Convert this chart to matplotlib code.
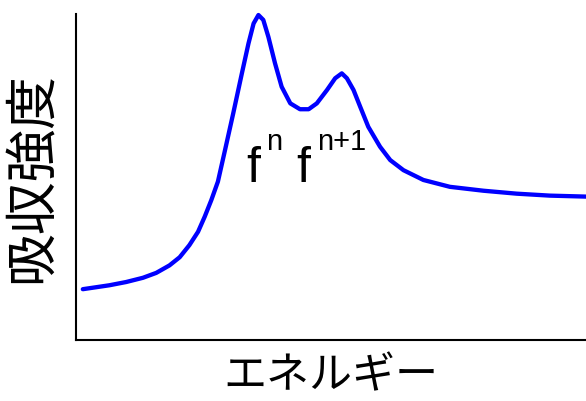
import matplotlib.pyplot as plt

plt.rcParams['font.family'] = ['Noto Sans CJK JP', 'DejaVu Sans']

energy = [0.13, 0.39, 0.65, 0.98, 1.31, 1.57, 1.83, 2.03, 2.22, 2.39, 2.52,
          2.65, 2.78, 2.92, 3.08, 3.25, 3.38, 3.48, 3.575, 3.67, 3.77, 3.90,
          4.03, 4.20, 4.39, 4.56, 4.72, 4.92, 5.08, 5.21, 5.31, 5.44, 5.57,
          5.73, 5.96, 6.16, 6.42, 6.81, 7.33, 7.99, 8.64, 9.29, 10.0]
intensity = [0.156, 0.162, 0.168, 0.178, 0.191, 0.206, 0.229, 0.254, 0.291,
             0.332, 0.378, 0.429, 0.486, 0.583, 0.695, 0.818, 0.910, 0.971,
             0.997, 0.982, 0.930, 0.849, 0.777, 0.726, 0.708, 0.708, 0.726,
             0.767, 0.803, 0.818, 0.803, 0.767, 0.716, 0.654, 0.593, 0.552,
             0.521, 0.491, 0.470, 0.458, 0.449, 0.443, 0.440]

fig = plt.figure(figsize=(5.86, 4.01), dpi=100)
ax = fig.add_axes([0.13, 0.152, 0.87, 0.813])
ax.plot(energy, intensity, color='blue', lw=3.1, clip_on=False,
        solid_capstyle='round', solid_joinstyle='round')
ax.set_xlim(0, 10)
ax.set_ylim(0, 1)
ax.spines['top'].set_visible(False)
ax.spines['right'].set_visible(False)
ax.spines['left'].set_linewidth(1.5)
ax.spines['bottom'].set_linewidth(1.5)
ax.set_xticks([])
ax.set_yticks([])

# peak labels f^n and f^(n+1)
ax.text(3.33, 0.485, 'f', fontsize=36, family='Liberation Sans', va='baseline')
ax.text(3.73, 0.583, 'n', fontsize=21, family='Liberation Sans', va='baseline')
ax.text(4.31, 0.485, 'f', fontsize=36, family='Liberation Sans', va='baseline')
ax.text(4.72, 0.583, 'n+1', fontsize=21, family='Liberation Sans', va='baseline')

ax.set_xlabel('エネルギー', fontsize=31, labelpad=10)
ax.set_ylabel('吸収強度', fontsize=38)
ax.yaxis.label.set_va('center')
ax.yaxis.set_label_coords(-0.087, 0.50)

fig.savefig('out.png', dpi=100)
